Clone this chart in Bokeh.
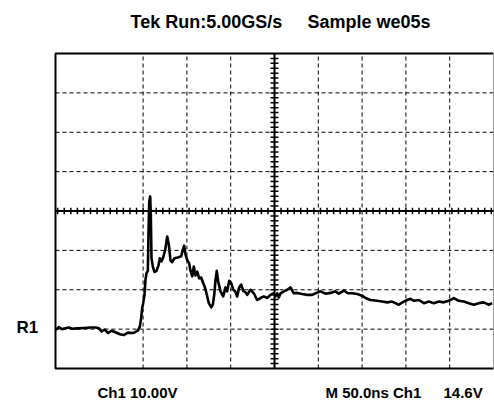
from bokeh.plotting import figure
from bokeh.models import Range1d
from bokeh.core.properties import value
from bokeh.embed import file_html
from bokeh.resources import INLINE
import numpy as np

# ---- data (time in ns, 50 ns/div; voltage in V, 10 V/div) ----
time_ns = [0.0, 3.8, 7.6, 11.4, 15.2, 19.0, 24.7, 32.3, 40.0, 45.7, 49.5, 52.5, 56.3, 60.1, 63.9, 68.5, 73.4, 78.0, 82.6, 88.7, 94.0,
           96.3, 97.8, 98.9, 100.1, 101.6, 102.7, 103.9, 105.4, 106.2, 107.0, 108.1, 108.8, 109.6,
           111.1, 113.0, 115.3, 117.6, 119.1, 121.0, 122.9, 125.2, 127.5, 129.4, 131.3, 133.2, 135.8, 139.6, 143.5, 145.3, 146.9, 148.4, 150.3, 152.6,
           154.1, 156.1, 157.9, 159.8, 161.8, 164.0, 166.3, 168.6, 170.9, 173.2, 175.0, 177.8, 179.6, 181.2, 182.7, 184.1, 185.7, 188.4, 191.4, 194.1,
           196.0, 198.3, 200.6, 202.9, 205.1, 207.4, 209.7, 212.0, 214.3, 216.6, 218.8, 222.6, 226.4, 230.2, 234.0,
           237.8, 241.7, 245.4, 249.2, 251.2, 253.1, 254.9, 256.9, 260.6, 264.5, 268.3, 272.0, 275.9, 281.6, 287.3, 293.0, 298.0, 302.5, 308.2, 313.9,
           319.6, 323.4, 329.1, 333.7, 338.7, 344.4, 350.1, 353.9, 359.6, 367.2, 372.9, 378.6, 384.3, 391.9, 397.6, 401.5, 405.3, 409.1, 414.8, 420.5,
           426.2, 431.9, 437.6, 443.3, 449.0, 454.7, 460.4, 466.1, 471.8, 477.5, 483.2, 488.9, 494.6, 498.5]
volts = [-30.2, -29.5, -30.0, -29.8, -29.6, -29.9, -29.8, -29.7, -29.6, -29.6, -29.8, -30.6, -30.1, -31.0, -30.4, -30.8, -31.3, -31.5, -30.9, -31.0, -30.4,
         -29.3, -27.2, -24.7, -23.4, -21.3, -17.5, -15.8, -15.2, -5.2, 2.4, 3.7, -1.0, -12.0,
         -14.1, -15.5, -15.2, -13.8, -12.0, -12.8, -11.8, -9.9, -6.5, -8.6, -12.6, -13.0, -12.0, -11.8, -11.5, -9.9, -8.8, -11.0, -12.4, -13.3,
         -15.2, -16.6, -14.1, -16.4, -15.4, -17.1, -16.9, -18.3, -19.6, -21.7, -23.4, -24.5, -23.8, -21.3, -17.5, -15.2, -17.9, -20.4, -21.7, -19.4,
         -20.4, -17.7, -18.3, -20.0, -20.4, -21.7, -19.4, -18.7, -20.3, -20.6, -21.3, -20.0, -20.9, -22.6, -22.1,
         -21.7, -22.1, -21.3, -20.9, -21.7, -20.9, -22.0, -20.9, -20.4, -20.0, -19.4, -20.9, -20.8, -21.1, -21.3, -21.3, -20.8, -20.4, -21.0, -20.8,
         -20.4, -21.0, -20.2, -20.9, -20.9, -21.1, -21.5, -22.1, -22.6, -22.8, -23.0, -23.2, -23.0, -23.8, -23.0, -22.6, -22.3, -22.8, -22.6, -23.4,
         -23.0, -23.4, -23.0, -23.2, -22.8, -22.1, -22.8, -23.0, -23.4, -23.8, -23.4, -23.2, -23.8, -23.4]

x_grid_ticks = [100, 150, 200, 300, 350, 400, 450]
y_grid_ticks = [-30, -20, -10, 10, 20, 30]
x_limits = [0, 500]
y_limits = [-40, 40]
center_time = 250
center_volt = 0

title_texts = ["Tek Run:5.00GS/s", "Sample we05s"]
bottom_texts = ["Ch1 10.00V", "M 50.0ns Ch1", "14.6V"]
ref_label = "R1"

# ---- layout: screen area of the graticule ----
W, H = 494, 402
left_px, right_px, top_px, bottom_px = 55, 493, 53, 368
sx = (right_px - left_px) / (x_limits[1] - x_limits[0])
sy = (bottom_px - top_px) / (y_limits[1] - y_limits[0])
x0 = x_limits[0] - left_px / sx
x1 = x_limits[1] + (W - right_px) / sx
y1 = y_limits[1] + top_px / sy
y0 = y_limits[0] - (H - bottom_px) / sy

def dx(px):
    return x_limits[0] + (px - left_px) / sx

def dy(py):
    return y_limits[1] - (py - top_px) / sy

p = figure(width=W, height=H,
           x_range=Range1d(x0, x1), y_range=Range1d(y0, y1),
           x_axis_type=None, y_axis_type=None,
           output_backend="svg", toolbar_location=None,
           min_border=0)
p.outline_line_color = None
p.background_fill_color = "white"
p.border_fill_color = "white"
p.xgrid.visible = False
p.ygrid.visible = False

# dashed graticule
p.segment(x0=x_grid_ticks, y0=y_limits[0], x1=x_grid_ticks, y1=y_limits[1],
          line_color="black", line_width=1, line_dash="4 3")
p.segment(x0=x_limits[0], y0=y_grid_ticks, x1=x_limits[1], y1=y_grid_ticks,
          line_color="black", line_width=1, line_dash="4 3")

# frame
p.line([x_limits[1], x_limits[0], x_limits[0], x_limits[1]],
       [y_limits[1], y_limits[1], y_limits[0], y_limits[0]],
       line_color="black", line_width=2)
p.line([x_limits[1], x_limits[1]], y_limits, line_color="#9a9a9a", line_width=1)

# center axes with minor ticks
p.line([center_time, center_time], y_limits, line_color="black", line_width=2)
p.line(x_limits, [center_volt, center_volt], line_color="black", line_width=2)
xt = center_time + 7.5 * np.arange(-33, 34)
p.segment(x0=xt, y0=center_volt - 3.2 / sy, x1=xt, y1=center_volt + 3.2 / sy,
          line_color="black", line_width=1.5)
yt = 1.25 * np.arange(-31, 32)
p.segment(x0=center_time - 4 / sx, y0=yt, x1=center_time + 4 / sx, y1=yt,
          line_color="black", line_width=1.5)

# trace
p.line(time_ns, volts, line_color="black", line_width=2.6, line_join="round")

# texts
bold_font = value("Liberation Sans")
p.text(x=[dx(130), dx(307)], y=[dy(21), dy(21)], text=title_texts,
       text_font=bold_font, text_font_style="bold", text_font_size="18px",
       text_baseline="middle", text_align="left", text_color="black")
p.text(x=[dx(97), dx(325), dx(443)], y=[dy(392)] * 3, text=bottom_texts,
       text_font=bold_font, text_font_style="bold", text_font_size="15px",
       text_baseline="middle", text_align="left", text_color="black")
p.text(x=[dx(16)], y=[dy(327)], text=[ref_label],
       text_font=bold_font, text_font_style="bold", text_font_size="17px",
       text_baseline="middle", text_align="left", text_color="black")

open("out.html", "w").write(file_html(p, INLINE))
